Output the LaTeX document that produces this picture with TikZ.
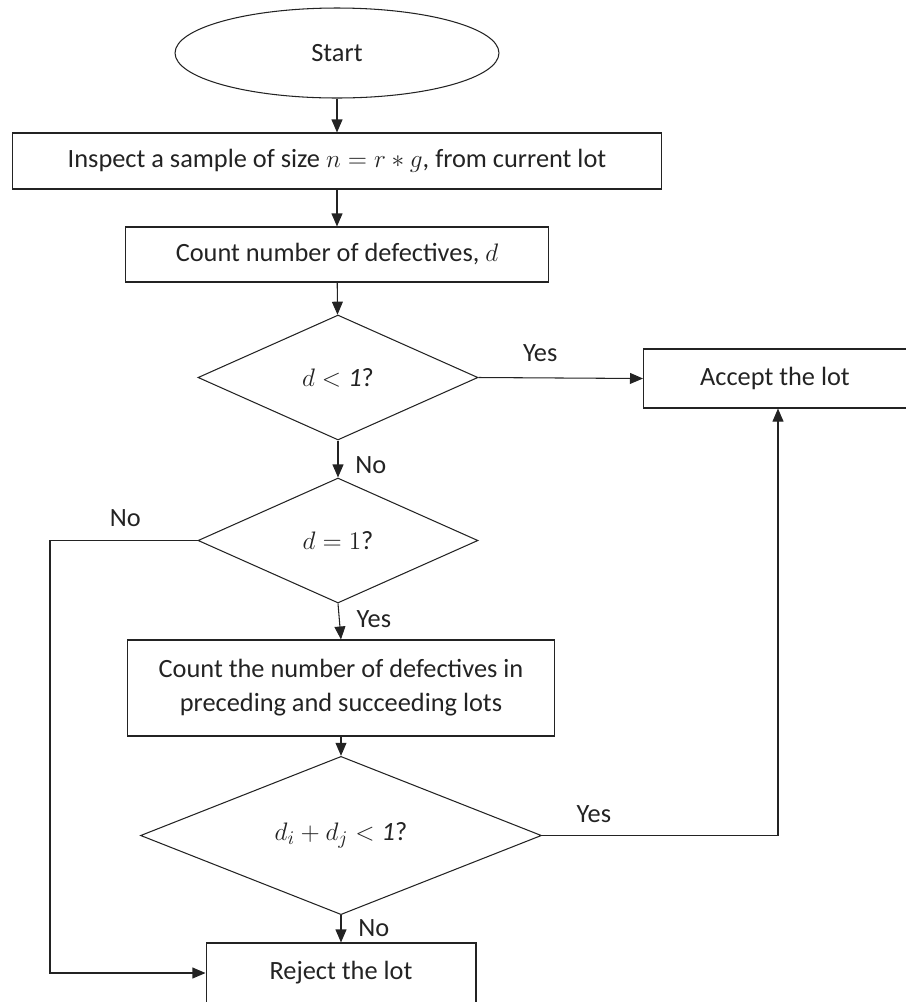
\documentclass[tikz,border=0pt]{standalone}
\usepackage{fontspec}
\setmainfont{Carlito}
\usetikzlibrary{arrows.meta,positioning,shapes.geometric}
\definecolor{inkgray}{RGB}{35,35,35}

\begin{document}
\begin{tikzpicture}[x=0.02cm,y=-0.02cm,
  font=\fontsize{15}{19.4}\selectfont, text=inkgray,
  procbox/.style={draw=inkgray,line width=0.6pt,rectangle,inner sep=0pt,align=center},
  decide/.style={draw=inkgray,line width=0.6pt,diamond,inner sep=0pt},
  flow/.style={draw=inkgray,line width=0.6pt,-{Triangle[length=7.4pt,width=6.2pt]}},
  lbl/.style={inner sep=0pt}]
\useasboundingbox (0,0) rectangle (906,1002);

\node[draw=inkgray,line width=0.6pt,ellipse,inner sep=0pt,minimum width=6.48cm,minimum height=1.8cm] (start) at (337,53) {Start};
\node[procbox,minimum width=13cm,minimum height=1.12cm] (inspect) at (337,161) {Inspect a sample of size $n=r\ast g$, from current lot};
\node[procbox,minimum width=8.48cm,minimum height=1.1cm] (count) at (337,254.5) {Count number of defectives, $d$};
\node[decide,minimum width=5.6cm,minimum height=2.5cm] (dless) at (338,377.5) {$d<\mathit{1}$?};
\node[procbox,minimum width=5.26cm,minimum height=1.18cm] (accept) at (775,378.5) {Accept the lot};
\node[decide,minimum width=5.6cm,minimum height=2.5cm] (dequal) at (338,540.5) {$d=1$?};
\node[procbox,minimum width=8.54cm,minimum height=1.92cm] (countnb) at (341,688) {Count the number of defectives in\\preceding and succeeding lots};
\node[decide,minimum width=8.02cm,minimum height=2.5cm] (dsum) at (341,835.5) {$d_i+d_j<\mathit{1}$?};
\node[procbox,minimum width=5.4cm,minimum height=1.2cm] (reject) at (341,973) {Reject the lot};

\coordinate (nocorner) at (50,540.5);
\coordinate (yescorner) at (778,835.5);

\draw[flow] (start) -- (inspect);
\draw[flow] (inspect) -- (count);
\draw[flow] (count) -- (dless);
\draw[flow] (dless.east) -- node[lbl,pos=0.375,above=9pt] {Yes} (accept.west);
\draw[flow] (dless.south) -- node[lbl,pos=0.66,right=9.6pt] {No} (dequal.north);
\draw[flow] (dequal.west) -- node[lbl,pos=0.49,above=7.4pt] {No} (nocorner) |- (reject.west);
\draw[flow] (dequal.south) -- node[lbl,pos=0.43,right=9.6pt] {Yes} (countnb.north);
\draw[flow] (countnb) -- (dsum);
\draw[flow] (dsum.east) -- node[lbl,pos=0.22,above=6.8pt] {Yes} (yescorner) -- (yescorner |- accept.south);
\draw[flow] (dsum.south) -- node[lbl,pos=0.49,right=9.6pt] {No} (reject.north);
\end{tikzpicture}
\end{document}
